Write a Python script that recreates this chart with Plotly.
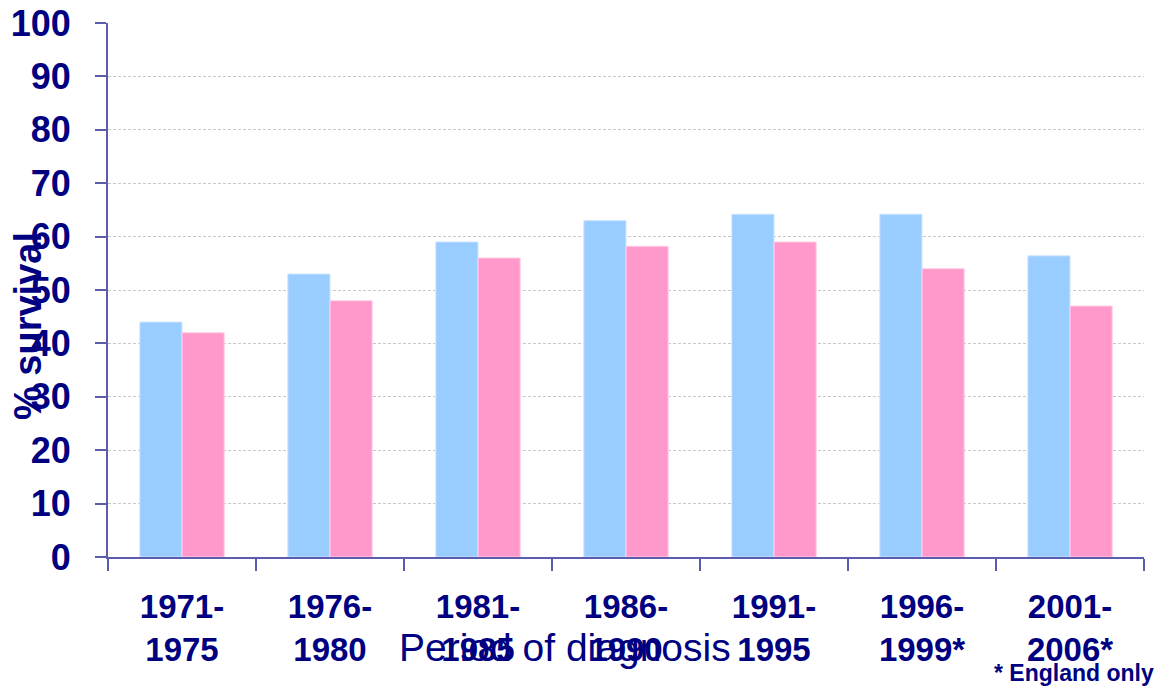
import plotly.graph_objects as go

categories = ["1971-<br>1975", "1976-<br>1980", "1981-<br>1985", "1986-<br>1990",
              "1991-<br>1995", "1996-<br>1999*", "2001-<br>2006*"]
series_blue = [44, 53, 59, 63, 64.2, 64.2, 56.4]
series_pink = [42, 48, 56, 58.2, 59, 54, 47]
y_ticks = [0, 10, 20, 30, 40, 50, 60, 70, 80, 90, 100]

W, H = 1161, 688
L, R, T, B = 108, 17, 23, 131
PW, PH = W - L - R, H - T - B

def px_x(p):
    return (p - L) / PW

def px_y(p):
    return (H - B - p) / PH

NAVY = "#000080"
AXC = "#5c5cad"
FONT = "Liberation Sans, Arial, sans-serif"

fig = go.Figure()
fig.add_trace(go.Bar(x=categories, y=series_blue, marker=dict(color="#99CCFF", line=dict(width=1, color="#cfe6ff")),
                     showlegend=False))
fig.add_trace(go.Bar(x=categories, y=series_pink, marker=dict(color="#FF99CC", line=dict(width=1, color="#ffd0e6")),
                     showlegend=False))

fig.update_layout(
    width=W, height=H,
    margin=dict(l=L, r=R, t=T, b=B, pad=0, autoexpand=False),
    plot_bgcolor="white", paper_bgcolor="white",
    barmode="group", bargap=0.43, bargroupgap=0,
    font=dict(family=FONT, color=NAVY),
)
fig.update_xaxes(
    automargin=False,
    showline=True, linecolor=AXC, linewidth=2,
    ticks="outside", tickson="boundaries", ticklen=12, tickcolor=AXC, tickwidth=2,
    tickfont=dict(family=FONT, size=33, color=NAVY, weight="bold"),
    ticklabelstandoff=19,
    showgrid=False,
)
fig.update_yaxes(
    automargin=False,
    range=[0, 100], tickvals=y_ticks,
    showline=True, linecolor=AXC, linewidth=2,
    ticks="outside", ticklen=11, tickcolor=AXC, tickwidth=2,
    tickfont=dict(family=FONT, size=36, color=NAVY, weight="bold"),
    ticklabelstandoff=17,
    showgrid=True, gridcolor="#c8c8c8", gridwidth=1, griddash="3px,2px",
    zeroline=False,
)

fig.add_annotation(text="% survival", textangle=-90, xref="paper", yref="paper",
                   x=px_x(28), y=px_y(326), xanchor="center", yanchor="middle",
                   showarrow=False, font=dict(family=FONT, size=38, color=NAVY, weight="bold"))
fig.add_annotation(text="Period of diagnosis", xref="paper", yref="paper",
                   x=px_x(565), y=px_y(647), xanchor="center", yanchor="middle",
                   showarrow=False, font=dict(family=FONT, size=39, color=NAVY))
fig.add_annotation(text="* England only", xref="paper", yref="paper",
                   x=px_x(1156), y=px_y(673), xanchor="right", yanchor="middle",
                   showarrow=False, font=dict(family=FONT, size=23, color=NAVY, weight="bold"))

fig.write_html("out.html", config={"displayModeBar": False},
               post_script="document.body.style.margin='0';")
